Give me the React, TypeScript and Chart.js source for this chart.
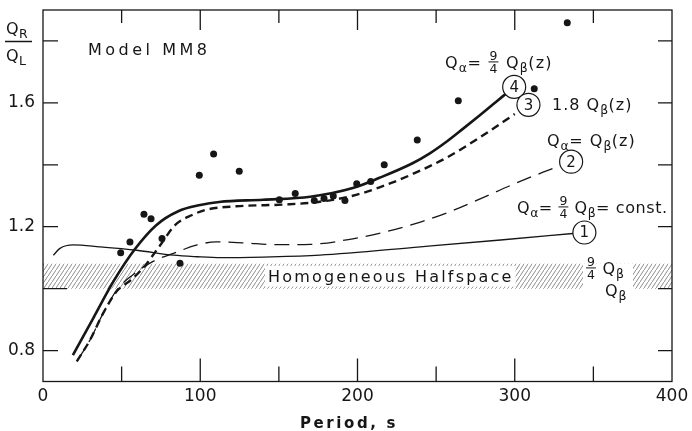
import React, { useEffect, useRef } from "react";
import { Chart, registerables } from "chart.js";

Chart.register(...registerables);

const INK = "#161616";
const FONT = '"DejaVu Sans", "Liberation Sans", sans-serif';

// Observed Q_R/Q_L values (period in s)
const obsPeriod = [49.4, 55.3, 64.2, 68.7, 75.7, 87.1, 99.4, 108.5, 124.8, 150.3, 160.4, 172.5, 178.7, 184.6, 192, 199.5, 208.4, 217, 238, 264.1, 312.4, 333.4];
const obsRatio = [1.116, 1.151, 1.24, 1.226, 1.162, 1.082, 1.366, 1.435, 1.379, 1.287, 1.307, 1.285, 1.291, 1.299, 1.285, 1.339, 1.346, 1.4, 1.48, 1.607, 1.646, 1.859];

// Curve 4: Qa = 9/4 Qb(z)
const c4Period = [19, 32, 45, 58.5, 72, 86, 100, 112, 140, 170, 197, 214, 235, 246, 257, 267, 278, 289, 294];
const c4Ratio = [0.785, 0.905, 1.025, 1.128, 1.205, 1.25, 1.27, 1.28, 1.287, 1.297, 1.325, 1.358, 1.405, 1.437, 1.476, 1.516, 1.561, 1.607, 1.628];

// Curve 3: 1.8 Qb(z)
const c3Period = [21.5, 30, 38.3, 47, 56.5, 65, 74.5, 84, 94.5, 104, 123, 155, 175, 197, 214, 235, 257, 278, 300];
const c3Ratio = [0.765, 0.835, 0.921, 0.992, 1.03, 1.075, 1.14, 1.205, 1.237, 1.255, 1.266, 1.272, 1.28, 1.3, 1.327, 1.37, 1.424, 1.489, 1.564];

// Curve 2: Qa = Qb(z)
const c2Period = [21.5, 30, 38.3, 47, 56, 70, 83, 98, 110, 127, 149, 170, 197, 219, 240, 257, 278, 299, 318, 329];
const c2Ratio = [0.765, 0.835, 0.921, 0.996, 1.04, 1.088, 1.114, 1.141, 1.151, 1.148, 1.142, 1.143, 1.161, 1.185, 1.215, 1.245, 1.29, 1.337, 1.376, 1.397];

// Curve 1: Qa = 9/4 Qb = const.
const c1Period = [6.6, 10.8, 19.3, 36, 59.6, 83, 98, 113, 140, 176, 240, 291, 337];
const c1Ratio = [1.108, 1.13, 1.141, 1.135, 1.124, 1.108, 1.103, 1.1, 1.102, 1.108, 1.135, 1.157, 1.178];

// Homogeneous halfspace band
const bandPeriod = [0, 400];
const bandLow = [1.0, 1.0];
const bandHigh = [1.08, 1.08];

const xTickLabels = [0, 100, 200, 300, 400];
const yTickLabels = [0.8, 1.2, 1.6];
const xMajorMarks = [100, 200, 300];
const xMinorMarks = [50, 150, 250, 350];
const yMarks = [0.8, 1.0, 1.2, 1.4, 1.6, 1.8];
const curveNumbers = ["4", "3", "2", "1"];

const pts = (xs: number[], ys: number[]) => xs.map((x, i) => ({ x, y: ys[i] }));

type Part = string | { sub: string } | { frac: [string, string] };

function setFont(ctx: CanvasRenderingContext2D, size: number, spacing: number, weight = "normal") {
  ctx.font = `${weight} ${size}px ${FONT}`;
  (ctx as any).letterSpacing = `${spacing}px`;
}

function drawRich(ctx: CanvasRenderingContext2D, parts: Part[], x: number, y: number, size: number, spacing = 1) {
  let cx = x;
  ctx.textAlign = "left";
  ctx.textBaseline = "alphabetic";
  for (const p of parts) {
    if (typeof p === "string") {
      setFont(ctx, size, spacing);
      ctx.fillText(p, cx, y);
      cx += ctx.measureText(p).width;
    } else if ("sub" in p) {
      setFont(ctx, size * 0.78, spacing * 0.5);
      ctx.fillText(p.sub, cx, y + size * 0.28);
      cx += ctx.measureText(p.sub).width;
    } else {
      const fs = size * 0.78;
      setFont(ctx, fs, 0);
      const w = Math.max(ctx.measureText(p.frac[0]).width, ctx.measureText(p.frac[1]).width) + 2;
      const mid = y - size * 0.38;
      ctx.textAlign = "center";
      ctx.fillText(p.frac[0], cx + w / 2, mid - 2);
      ctx.fillText(p.frac[1], cx + w / 2, mid + 2 + fs * 0.73);
      ctx.textAlign = "left";
      ctx.beginPath();
      ctx.moveTo(cx, mid);
      ctx.lineTo(cx + w, mid);
      ctx.lineWidth = 1;
      ctx.stroke();
      cx += w + spacing;
    }
  }
  return cx;
}

const decorPlugin = {
  id: "decor",
  afterDatasetsDraw(chart: any) {
    const { ctx, scales } = chart;
    const x = scales.x;
    const y = scales.y;
    const top = y.getPixelForValue(bandHigh[0]);
    const bot = y.getPixelForValue(bandLow[0]);
    ctx.save();
    ctx.fillStyle = "#fff";
    ctx.strokeStyle = INK;
    // clear band behind "Homogeneous Halfspace"
    setFont(ctx, 16, 2.2);
    const txt = "Homogeneous Halfspace";
    const tw = ctx.measureText(txt).width;
    const tx = 268;
    ctx.fillRect(tx - 3, top + 2, tw + 5, bot - top - 4);
    ctx.fillRect(583, top, 50, bot - top + 1);
    ctx.fillStyle = INK;
    ctx.textBaseline = "alphabetic";
    ctx.fillText(txt, tx, 282);

    // circles with curve numbers
    const curves = [chart.data.datasets[1], chart.data.datasets[2], chart.data.datasets[3], chart.data.datasets[4]];
    const gaps = [0, 5, 0, 0];
    curves.forEach((ds: any, i: number) => {
      const d = ds.data;
      const e = d[d.length - 1];
      const p = d[d.length - 2];
      const ex = x.getPixelForValue(e.x), ey = y.getPixelForValue(e.y);
      const px = x.getPixelForValue(p.x), py = y.getPixelForValue(p.y);
      const len = Math.hypot(ex - px, ey - py);
      const r = 11.5;
      const cx = ex + ((ex - px) / len) * (r + gaps[i]);
      const cy = ey + ((ey - py) / len) * (r + gaps[i]);
      ctx.beginPath();
      ctx.arc(cx, cy, r, 0, Math.PI * 2);
      ctx.fillStyle = "#fff";
      ctx.fill();
      ctx.lineWidth = 1.2;
      ctx.strokeStyle = INK;
      ctx.stroke();
      ctx.fillStyle = INK;
      setFont(ctx, 15, 0);
      ctx.textAlign = "center";
      ctx.textBaseline = "middle";
      ctx.fillText(curveNumbers[i], cx, cy + 1);
    });
    ctx.restore();
  },
  afterDraw(chart: any) {
    const { ctx, chartArea: a, scales } = chart;
    const x = scales.x;
    const y = scales.y;
    ctx.save();
    ctx.strokeStyle = INK;
    ctx.fillStyle = INK;
    ctx.lineWidth = 1.3;
    ctx.strokeRect(a.left, a.top, a.right - a.left, a.bottom - a.top);
    ctx.beginPath();
    xMajorMarks.forEach((v) => {
      const px = x.getPixelForValue(v);
      ctx.moveTo(px, a.bottom);
      ctx.lineTo(px, a.bottom - 23);
      ctx.moveTo(px, a.top);
      ctx.lineTo(px, a.top + 20);
    });
    xMinorMarks.forEach((v) => {
      const px = x.getPixelForValue(v);
      ctx.moveTo(px, a.bottom);
      ctx.lineTo(px, a.bottom - 15);
      ctx.moveTo(px, a.top);
      ctx.lineTo(px, a.top + 13);
    });
    yMarks.forEach((v) => {
      const py = y.getPixelForValue(v);
      ctx.moveTo(a.left, py);
      ctx.lineTo(a.left + (v === 1.0 ? 24 : 15), py);
      ctx.moveTo(a.right, py);
      ctx.lineTo(a.right - 14, py);
    });
    ctx.stroke();

    ctx.textBaseline = "alphabetic";
    ctx.textAlign = "left";
    // Model label
    setFont(ctx, 16, 3.5);
    ctx.fillText("Model MM8", 88, 55);

    // y-axis title as fraction Q_R / Q_L
    drawRich(ctx, ["Q", { sub: "R" }], 6, 34, 16, 0.5);
    ctx.beginPath();
    ctx.lineWidth = 1.5;
    ctx.moveTo(5, 41.5);
    ctx.lineTo(32, 41.5);
    ctx.stroke();
    drawRich(ctx, ["Q", { sub: "L" }], 6, 61, 16, 0.5);

    // x-axis title
    setFont(ctx, 15, 2.6, "bold");
    ctx.fillText("Period, s", 300, 428);

    // curve annotations
    ctx.lineWidth = 1;
    drawRich(ctx, ["Q", { sub: "α" }, "=", " ", { frac: ["9", "4"] }, " Q", { sub: "β" }, "(z)"], 445, 68, 16, 1.2);
    drawRich(ctx, ["1.8 Q", { sub: "β" }, "(z)"], 552, 110, 16, 1);
    drawRich(ctx, ["Q", { sub: "α" }, "= Q", { sub: "β" }, "(z)"], 547, 146, 16, 1);
    drawRich(ctx, ["Q", { sub: "α" }, "= ", { frac: ["9", "4"] }, " Q", { sub: "β" }, "= const."], 517, 213, 16, 0.6);
    drawRich(ctx, [{ frac: ["9", "4"] }, " Q", { sub: "β" }], 586, 274, 16, 0.8);
    drawRich(ctx, ["Q", { sub: "β" }], 605, 296, 16, 0.8);
    ctx.restore();
  },
};

export default function App() {
  const ref = useRef<HTMLCanvasElement | null>(null);

  useEffect(() => {
    if (!ref.current) return;
    const pc = document.createElement("canvas");
    pc.width = 4;
    pc.height = 6;
    const g = pc.getContext("2d")!;
    g.strokeStyle = "#666";
    g.lineWidth = 0.75;
    g.beginPath();
    g.moveTo(-1, 7.5);
    g.lineTo(5, -1.5);
    g.stroke();
    const pattern = ref.current.getContext("2d")!.createPattern(pc, "repeat");

    const curveBase = {
      showLine: true,
      pointRadius: 0,
      borderColor: INK,
      backgroundColor: INK,
      fill: false,
      cubicInterpolationMode: "monotone" as const,
    };

    const chart = new Chart(ref.current, {
      type: "scatter",
      data: {
        datasets: [
          {
            label: "observed",
            data: pts(obsPeriod, obsRatio),
            pointRadius: 3.5,
            pointBackgroundColor: INK,
            pointBorderWidth: 0,
            showLine: false,
          },
          { ...curveBase, label: "4", data: pts(c4Period, c4Ratio), borderWidth: 2.6 },
          { ...curveBase, label: "3", data: pts(c3Period, c3Ratio), borderWidth: 2.4, borderDash: [8, 5] },
          { ...curveBase, label: "2", data: pts(c2Period, c2Ratio), borderWidth: 1.3, borderDash: [15, 8] },
          { ...curveBase, label: "1", data: pts(c1Period, c1Ratio), borderWidth: 1.3 },
          {
            label: "bandLow",
            data: pts(bandPeriod, bandLow),
            showLine: true,
            pointRadius: 0,
            borderWidth: 0,
            borderColor: "rgba(0,0,0,0)",
            fill: false,
          },
          {
            label: "bandHigh",
            data: pts(bandPeriod, bandHigh),
            showLine: true,
            pointRadius: 0,
            borderWidth: 0,
            borderColor: "rgba(0,0,0,0)",
            backgroundColor: pattern as any,
            fill: "-1",
          },
        ] as any,
      },
      options: {
        responsive: false,
        animation: false,
        layout: { padding: { top: 10, right: 20, left: 0, bottom: 0 } },
        plugins: { legend: { display: false }, tooltip: { enabled: false } },
        scales: {
          x: {
            type: "linear",
            min: 0,
            max: 400,
            afterFit: (s: any) => {
              s.height = 49.5;
              s.paddingLeft = 0;
              s.paddingRight = 0;
            },
            afterBuildTicks: (s: any) => {
              s.ticks = xTickLabels.map((v) => ({ value: v }));
            },
            grid: { display: false, drawTicks: false },
            border: { display: false },
            ticks: {
              padding: 5,
              maxRotation: 0,
              autoSkip: false,
              color: INK,
              font: { family: FONT, size: 17 },
            },
          },
          y: {
            type: "linear",
            min: 0.7,
            max: 1.9,
            afterFit: (s: any) => {
              s.width = 43;
              s.paddingTop = 0;
              s.paddingBottom = 0;
            },
            afterBuildTicks: (s: any) => {
              s.ticks = yTickLabels.map((v) => ({ value: v }));
            },
            grid: { display: false, drawTicks: false },
            border: { display: false },
            ticks: {
              padding: 8,
              autoSkip: false,
              color: INK,
              font: { family: FONT, size: 17 },
              callback: (v: any) => Number(v).toFixed(1),
            },
          },
        },
      },
      plugins: [decorPlugin],
    });
    return () => chart.destroy();
  }, []);

  return (
    <div style={{ position: "absolute", left: 0, top: 0, width: 692, height: 431, background: "#fff" }}>
      <canvas ref={ref} width={692} height={431} style={{ display: "block" }} />
    </div>
  );
}
